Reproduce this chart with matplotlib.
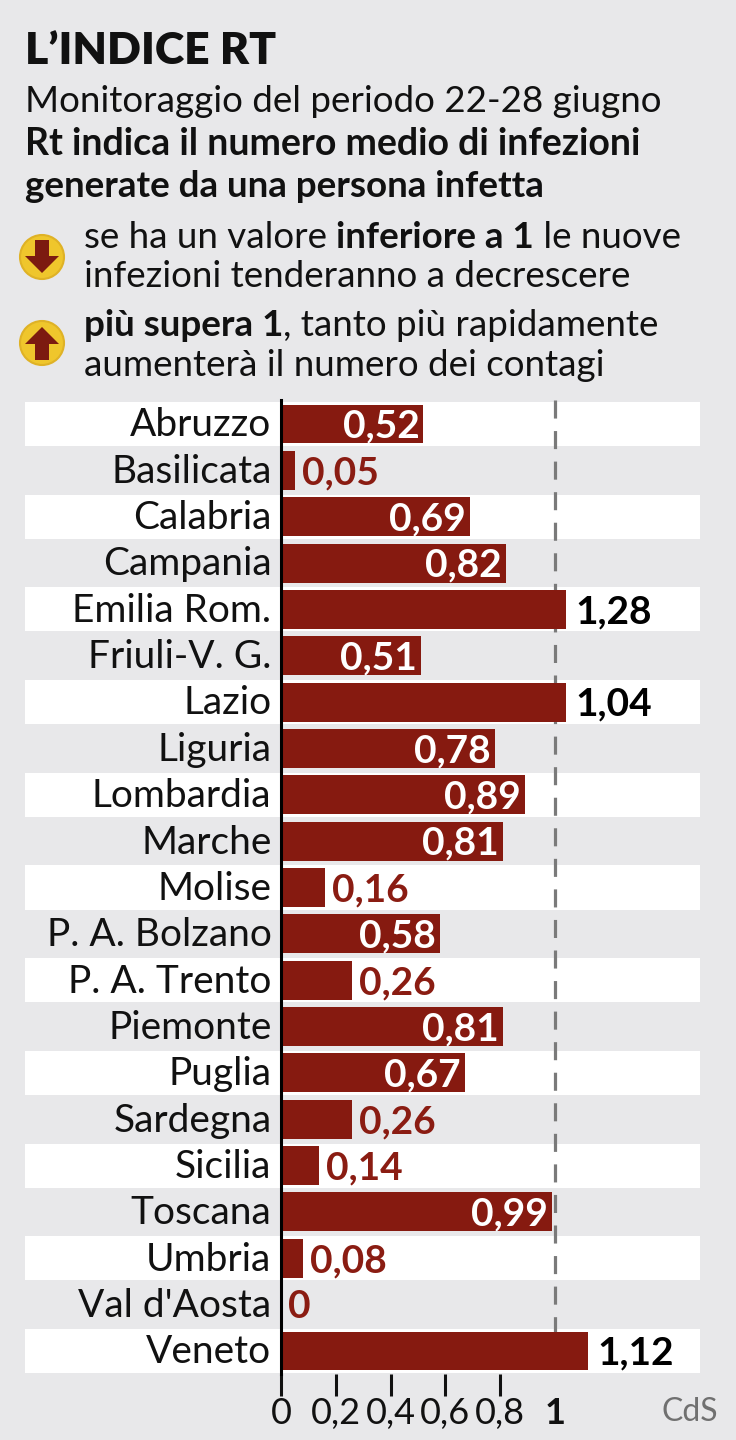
import matplotlib
matplotlib.use("Agg")
import matplotlib.pyplot as plt
from matplotlib.patches import Circle, Polygon

plt.rcParams['font.family'] = ['Lato', 'DejaVu Sans']
plt.rcParams['lines.scale_dashes'] = False

# Data
regions = ["Abruzzo", "Basilicata", "Calabria", "Campania", "Emilia Rom.",
           "Friuli-V. G.", "Lazio", "Liguria", "Lombardia", "Marche", "Molise",
           "P. A. Bolzano", "P. A. Trento", "Piemonte", "Puglia", "Sardegna",
           "Sicilia", "Toscana", "Umbria", "Val d'Aosta", "Veneto"]
rt_values = [0.52, 0.05, 0.69, 0.82, 1.28, 0.51, 1.04, 0.78, 0.89, 0.81, 0.16,
             0.58, 0.26, 0.81, 0.67, 0.26, 0.14, 0.99, 0.08, 0, 1.12]
# the original graphic draws the Emilia Rom. bar only as long as ~1.04
bar_lengths = [0.52, 0.05, 0.69, 0.82, 1.04, 0.51, 1.04, 0.78, 0.89, 0.81, 0.16,
               0.58, 0.26, 0.81, 0.67, 0.26, 0.14, 0.99, 0.08, 0, 1.12]
tick_values = [0, 0.2, 0.4, 0.6, 0.8, 1]
tick_labels = ["0", "0,2", "0,4", "0,6", "0,8", "1"]

BG = "#e8e8ea"
RED = "#861a10"
W, H = 736, 1440

fig = plt.figure(figsize=(W / 100, H / 100), dpi=100, facecolor=BG)

# chart axes: x 25..700 px, y 400..1374 px
x0, x1 = 25, 700
y0, y1 = 400, 1374
ax = fig.add_axes([x0 / W, 1 - y1 / H, (x1 - x0) / W, (y1 - y0) / H])
ax.set_facecolor("none")
zero_px, one_px = 281, 555
unit = one_px - zero_px
ax.set_xlim((x0 - zero_px) / unit, (x1 - zero_px) / unit)
row0, rowh = 424, 46.35
ax.set_ylim((y1 - row0) / rowh, (y0 - row0) / rowh)

rows = list(range(len(regions)))
for i in rows:
    if i % 2 == 0:
        ax.axhspan(i - 0.475, i + 0.475, color="white", lw=0, zorder=0)

ax.barh(rows, bar_lengths, height=0.84, color=RED, zorder=2)
ax.plot([1, 1], [(y0 - row0) / rowh, 20.47], color="#7a7a7a", lw=2.3,
        dashes=(13, 9), zorder=1)

for i, (name, v, L) in enumerate(zip(regions, rt_values, bar_lengths)):
    ax.text(-0.035, i + 0.03, name, ha="right", va="center", fontsize=28,
            color="#111111")
    lab = ("%.2f" % v).replace(".", ",") if v != 0 else "0"
    if v > 1:
        ax.text(L + 0.035, i + 0.05, lab, ha="left", va="center", fontsize=28,
                fontweight="bold", color="black", zorder=3)
    elif v < 0.4:
        ax.text(L + 0.025, i + 0.05, lab, ha="left", va="center", fontsize=28,
                fontweight="bold", color="#8a1c12", zorder=3)
    else:
        ax.text(L - 0.015, i + 0.05, lab, ha="right", va="center", fontsize=28,
                fontweight="bold", color="white", zorder=3)

for s in ["top", "right", "bottom"]:
    ax.spines[s].set_visible(False)
ax.spines["left"].set_position(("data", 0))
ax.spines["left"].set_linewidth(2.2)
ax.spines["left"].set_zorder(4)
ax.set_yticks([])
ax.set_xticks(tick_values)
ax.set_xticklabels(tick_labels)
ax.tick_params(axis="x", length=15.5, width=2.2, direction="out", pad=1,
               labelsize=26, colors="#111111")
ax.xaxis.get_major_ticks()[-1].tick1line.set_visible(False)
ax.get_xticklabels()[-1].set_fontweight("bold")

# header overlay in pixel coords
hd = fig.add_axes([0, 0, 1, 1])
hd.set_xlim(0, W)
hd.set_ylim(H, 0)
hd.axis("off")
hd.set_facecolor("none")

hd.text(25, 64, "L\u2019INDICE RT", fontsize=32, fontweight="heavy",
        va="baseline", color="#111111")


def line(x, y, parts, size=26.5):
    prev = None
    for txt, bold in parts:
        kw = dict(fontsize=size, fontweight="bold" if bold else "normal",
                  va="baseline", ha="left", color="#111111")
        if prev is None:
            prev = hd.text(x, y, txt, **kw)
        else:
            prev = hd.annotate(txt, xy=(1, y), xycoords=(prev, hd.transData), **kw)


line(25, 112, [("Monitoraggio del periodo 22-28 giugno", False)])
line(25, 155, [("Rt indica il numero medio di infezioni", True)], size=27)
line(25, 197, [("generate da una persona infetta", True)])
line(84, 248, [("se ha un valore ", False), ("inferiore a 1", True), (" le nuove", False)])
line(84, 287, [("infezioni tenderanno a decrescere", False)])
line(84, 336, [("più supera 1", True), (", tanto più rapidamente", False)])
line(84, 376, [("aumenterà il numero dei contagi", False)])

# icons
for cy, up in [(257, False), (343, True)]:
    hd.add_patch(Circle((42, cy), 22, facecolor="#efc62c", edgecolor="#dfb226", lw=1.5))
    if up:
        pts = [(42, cy - 16), (59, cy + 1), (49, cy + 1), (49, cy + 17),
               (35, cy + 17), (35, cy + 1), (25, cy + 1)]
    else:
        pts = [(42, cy + 16), (59, cy - 1), (49, cy - 1), (49, cy - 17),
               (35, cy - 17), (35, cy - 1), (25, cy - 1)]
    hd.add_patch(Polygon(pts, closed=True, facecolor="#7c1a10", edgecolor="none"))

hd.text(718, 1412, "CdS", fontsize=23, color="#707070", ha="right", va="center")

fig.savefig("out.png", dpi=100, facecolor=BG)
